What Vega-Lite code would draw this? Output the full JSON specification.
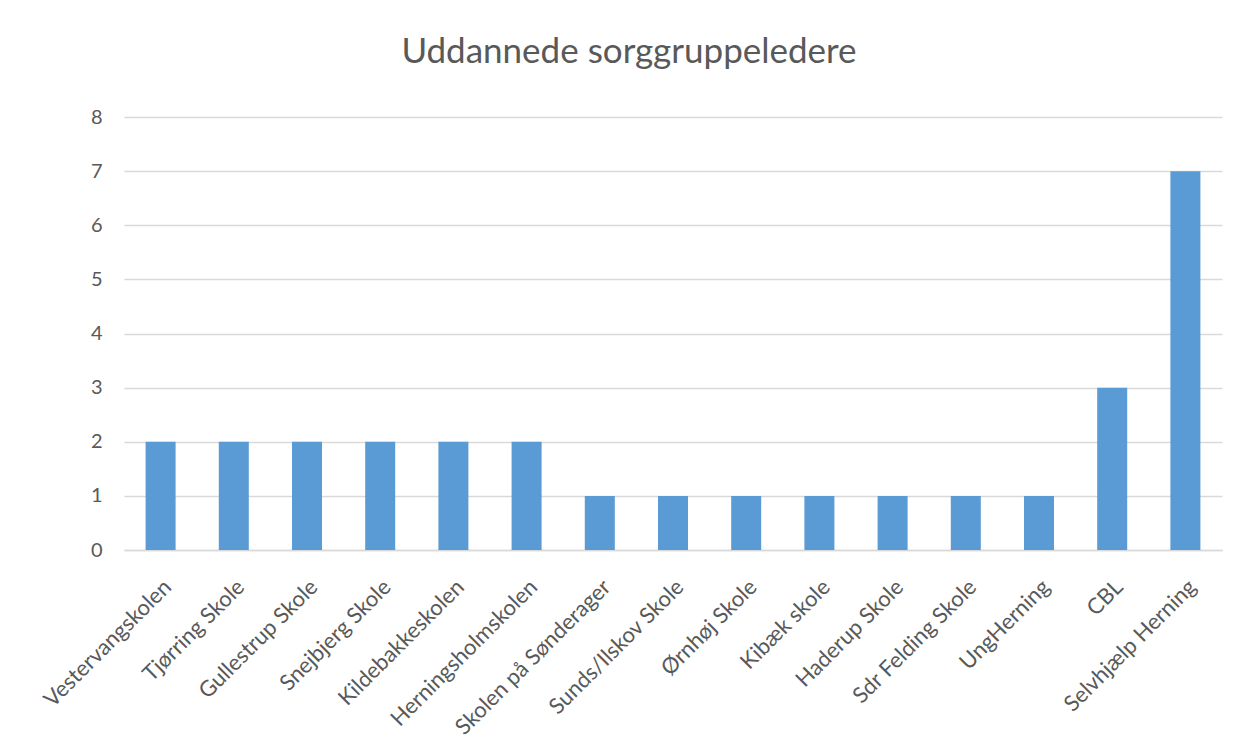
{
  "$schema": "https://vega.github.io/schema/vega-lite/v6.json",
  "autosize": {"type": "none"},
  "padding": {"left": 124, "top": 117, "right": 15, "bottom": 192},
  "width": 1098,
  "height": 433,
  "background": "white",
  "title": {
    "text": "Uddannede sorggruppeledere",
    "font": "Lato",
    "fontSize": 35,
    "fontWeight": "normal",
    "color": "#595959",
    "anchor": "middle",
    "frame": "group",
    "baseline": "alphabetic",
    "offset": 9,
    "dx": -44
  },
  "data": {
    "values": [
      {"skole": "Vestervangskolen", "antal": 2},
      {"skole": "Tjørring Skole", "antal": 2},
      {"skole": "Gullestrup Skole", "antal": 2},
      {"skole": "Snejbjerg Skole", "antal": 2},
      {"skole": "Kildebakkeskolen", "antal": 2},
      {"skole": "Herningsholmskolen", "antal": 2},
      {"skole": "Skolen på Sønderager", "antal": 1},
      {"skole": "Sunds/Ilskov Skole", "antal": 1},
      {"skole": "Ørnhøj Skole", "antal": 1},
      {"skole": "Kibæk skole", "antal": 1},
      {"skole": "Haderup Skole", "antal": 1},
      {"skole": "Sdr Felding Skole", "antal": 1},
      {"skole": "UngHerning", "antal": 1},
      {"skole": "CBL", "antal": 3},
      {"skole": "Selvhjælp Herning", "antal": 7}
    ]
  },
  "mark": {"type": "bar", "color": "#5B9BD5"},
  "encoding": {
    "x": {
      "field": "skole",
      "type": "nominal",
      "sort": null,
      "scale": {"paddingInner": 0.59, "paddingOuter": 0.295},
      "axis": {
        "title": null,
        "labelAngle": -45,
        "labelFont": "Lato",
        "labelFontSize": 22,
        "labelColor": "#595959",
        "labelPadding": 26,
        "ticks": false,
        "domainColor": "#D9D9D9",
        "domainWidth": 1.5,
        "labelLimit": 400
      }
    },
    "y": {
      "field": "antal",
      "type": "quantitative",
      "scale": {"domain": [0, 8]},
      "axis": {
        "title": null,
        "values": [0, 1, 2, 3, 4, 5, 6, 7, 8],
        "labelFont": "Lato",
        "labelFontSize": 20,
        "labelColor": "#595959",
        "labelPadding": 22,
        "ticks": false,
        "domain": false,
        "gridColor": "#D9D9D9",
        "gridWidth": 1.5
      }
    }
  },
  "config": {"view": {"stroke": null}}
}
